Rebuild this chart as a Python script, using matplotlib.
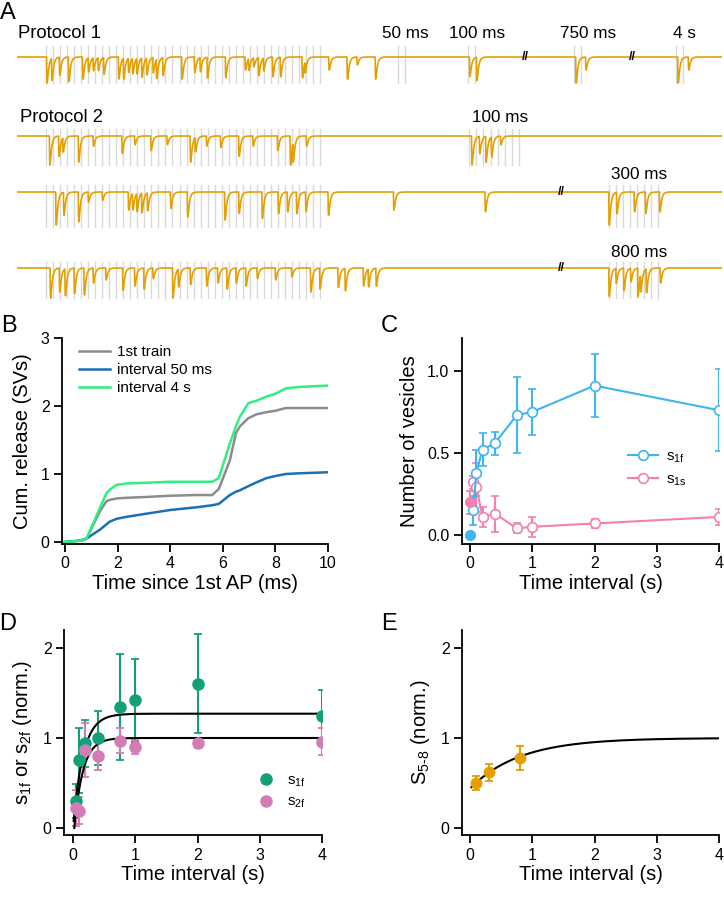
import numpy as np
import matplotlib.pyplot as plt
from matplotlib.lines import Line2D

plt.rcParams['font.family'] = ['Liberation Sans', 'DejaVu Sans']
plt.rcParams['mathtext.fontset'] = 'custom'
plt.rcParams['mathtext.rm'] = 'Liberation Sans'
plt.rcParams['mathtext.it'] = 'Liberation Sans:italic'

W, H = 724, 901

# ---------------- panel A: example traces (times in ms, amplitudes relative) ----------------
train_stims = list(range(0, 400, 10))

p1_stims = train_stims + [500, 510, 600, 610, 750, 760, 895, 905]
p1_times = [1, 8, 19, 32, 52, 60, 67, 74, 82, 103, 110, 117, 123, 129, 136, 143, 152, 157,
            166, 193, 211, 219, 229, 255, 283, 288, 295, 302, 309, 322, 333, 364, 368,
            402, 428, 442, 468, 602, 612, 753, 767, 898, 913]
p1_amps = [1.0, 0.85, 0.7, 0.95, 0.85, 0.55, 0.5, 0.5, 0.65, 0.85, 0.8, 0.55, 0.6, 0.6, 0.75,
           0.65, 0.6, 0.75, 0.7, 0.85, 0.6, 0.55, 0.8, 0.8, 0.5, 0.45, 0.35, 0.7, 0.5, 0.75,
           0.75, 0.8, 0.45, 0.5, 0.85, 0.3, 0.85, 0.75, 0.9, 1.0, 0.5, 1.0, 0.5]
p1_breaks = [681, 833]

p2a_stims = train_stims + list(range(602, 682, 10))
p2a_times = [5, 18, 24, 46, 67, 108, 126, 149, 172, 205, 212, 228, 248, 274, 294, 329, 347,
             351, 370, 605, 616, 625, 633, 646]
p2a_amps = [1.0, 0.7, 0.5, 0.9, 0.35, 0.6, 0.3, 0.5, 0.3, 0.9, 0.5, 0.35, 0.4, 0.7, 0.35,
            0.5, 1.0, 0.7, 0.35, 1.0, 0.6, 0.9, 0.7, 0.3]
p2a_breaks = []

p2b_stims = train_stims + list(range(800, 880, 10))
p2b_times = [14, 25, 46, 60, 80, 117, 123, 129, 136, 144, 177, 201, 254, 274, 307, 330, 343,
             356, 369, 401, 494, 624, 800, 811, 836, 852, 872]
p2b_amps = [1.0, 0.7, 0.9, 0.3, 0.25, 0.55, 0.5, 0.55, 0.6, 0.55, 0.5, 0.75, 0.85, 0.65, 0.8,
            0.65, 0.6, 0.65, 0.6, 0.7, 0.55, 0.6, 1.0, 0.65, 0.6, 0.65, 0.6]
p2b_breaks = [732]

p2c_stims = train_stims + list(range(800, 880, 10))
p2c_times = [6, 19, 27, 40, 54, 67, 85, 109, 126, 139, 152, 180, 188, 205, 228, 244, 257, 270,
             284, 300, 326, 349, 376, 389, 415, 425, 451, 458, 469, 800, 810, 821, 831, 841,
             845, 853, 873]
p2c_amps = [1.0, 0.8, 0.9, 0.85, 0.9, 0.5, 0.4, 0.75, 0.6, 0.7, 0.35, 1.0, 0.6, 0.55, 0.6,
            0.5, 0.7, 0.5, 0.6, 0.35, 0.4, 0.3, 0.8, 0.7, 0.65, 0.75, 0.6, 0.6, 0.6, 0.95, 0.5,
            0.75, 0.45, 0.95, 0.6, 0.8, 0.5]
p2c_breaks = [732]

# ---------------- panel B: cumulative release ----------------
b_time = [0, 0.6, 0.82, 1.33, 1.58, 1.71, 1.96, 2.35, 3.0, 4.0, 5.0, 5.6, 5.85, 6.27, 6.5,
          6.65, 6.97, 7.3, 7.67, 8.0, 8.4, 8.9, 10.0]
b_first = [0, 0.02, 0.05, 0.45, 0.6, 0.62, 0.64, 0.65, 0.66, 0.68, 0.69, 0.69, 0.78, 1.2,
           1.6, 1.7, 1.82, 1.88, 1.91, 1.93, 1.97, 1.97, 1.97]
b_int50 = [0, 0.02, 0.05, 0.18, 0.26, 0.30, 0.34, 0.37, 0.41, 0.47, 0.51, 0.54, 0.56, 0.69,
           0.74, 0.76, 0.82, 0.88, 0.94, 0.97, 1.0, 1.01, 1.025]
b_int4s = [0, 0.02, 0.05, 0.5, 0.72, 0.77, 0.84, 0.86, 0.87, 0.885, 0.885, 0.885, 0.94,
           1.45, 1.7, 1.84, 2.04, 2.08, 2.14, 2.18, 2.26, 2.28, 2.30]

# ---------------- panel C: number of vesicles ----------------
c_x = [0.05, 0.1, 0.2, 0.4, 0.75, 1, 2, 4]
c_s1f = [0.15, 0.38, 0.52, 0.56, 0.73, 0.75, 0.91, 0.76]
c_s1f_err = [0.09, 0.14, 0.10, 0.07, 0.23, 0.14, 0.19, 0.25]
c_s1s = [0.32, 0.29, 0.11, 0.13, 0.04, 0.05, 0.07, 0.11]
c_s1s_err = [0.04, 0.15, 0.06, 0.11, 0.03, 0.06, 0.03, 0.05]
c_first_s1f, c_first_s1s, c_first_s1s_err = 0.0, 0.20, 0.07

# ---------------- panel D: normalised s1f / s2f ----------------
d_x = [0.05, 0.1, 0.2, 0.4, 0.75, 1, 2, 4]
d_s1f = [0.30, 0.75, 0.94, 1.0, 1.34, 1.42, 1.60, 1.24]
d_s1f_err = [0.19, 0.36, 0.26, 0.30, 0.59, 0.46, 0.55, 0.29]
d_s2f = [0.22, 0.19, 0.87, 0.80, 0.97, 0.90, 0.94, 0.96]
d_s2f_err = [0.20, 0.15, 0.30, 0.16, 0.14, 0.08, 0.05, 0.15]
d_fit_s1f = (1.27, 0.16, 0.0)   # amplitude, tau (s), delay (s)
d_fit_s2f = (1.0, 0.14, 0.02)

# ---------------- panel E: S5-8 ----------------
e_x = [0.1, 0.3, 0.8]
e_y = [0.50, 0.62, 0.78]
e_err = [0.075, 0.095, 0.135]
e_fit = (0.56, 0.8)   # deficit, tau (s)

ORANGE = '#E69F00'
GREEN = '#12A077'
MAUVE = '#D27DB6'
SKY = '#3FB4EE'
PINK = '#F57FAE'

fig = plt.figure(figsize=(W / 100, H / 100), dpi=100)


def px_axes(left, top, right, bottom):
    return fig.add_axes([left / W, 1 - bottom / H, (right - left) / W, (bottom - top) / H])


def style(ax):
    for s in ['top', 'right']:
        ax.spines[s].set_visible(False)
    for s in ['left', 'bottom']:
        ax.spines[s].set_linewidth(1.3)
    ax.tick_params(direction='out', length=6, width=1.3, labelsize=11.5, pad=3)


# ---- A ----
axA = px_axes(17, 20, 722, 300)
axA.set_xlim(-41, 961)
axA.set_ylim(300, 20)
axA.axis('off')

t = np.arange(-41, 961, 0.2)
kern_t = np.arange(0, 30, 0.2)
kern_peak = ((1 - np.exp(-kern_t / 0.5)) * np.exp(-kern_t / 2.2)).max()


def make_trace(times, amps):
    y = np.zeros_like(t)
    for t0, a in zip(times, amps):
        s = t - t0
        m = s > 0
        y[m] -= a * (1 - np.exp(-s[m] / 0.5)) * np.exp(-s[m] / 2.2) / kern_peak
    return y


# baseline, depth, stim-line extent above / below, data
traces = [
    (57, 26, 11, 26, p1_stims, p1_times, p1_amps, p1_breaks),
    (136, 29, 7, 29, p2a_stims, p2a_times, p2a_amps, p2a_breaks),
    (192, 33, 7, 35, p2b_stims, p2b_times, p2b_amps, p2b_breaks),
    (268, 30, 6, 30, p2c_stims, p2c_times, p2c_amps, p2c_breaks),
]
for base, depth, up, down, stims, times, amps, breaks in traces:
    for st in stims:
        axA.plot([st, st], [base - up, base + down], color='#d9d9d9', lw=1.0, zorder=1)
    axA.plot(t, base - depth * make_trace(times, amps), color=ORANGE, lw=1.2, zorder=2)
    for bk in breaks:
        axA.text(bk, base, '//', ha='center', va='center', fontsize=9, fontweight='bold',
                 color='black', zorder=3)

axA.text(-40, 34, 'Protocol 1', fontsize=13.3, ha='left', va='center')
axA.text(-37, 117, 'Protocol 2', fontsize=13.3, ha='left', va='center')
for lab, xc in [('50 ms', 511), ('100 ms', 613), ('750 ms', 771), ('4 s', 907)]:
    axA.text(xc, 34, lab, fontsize=12.3, ha='center', va='center')
axA.text(646, 118, '100 ms', fontsize=12.3, ha='center', va='center')
axA.text(843, 174, '300 ms', fontsize=12.3, ha='center', va='center')
axA.text(843, 252, '800 ms', fontsize=12.3, ha='center', va='center')

# ---- B ----
axB = px_axes(62, 338, 328, 544)
style(axB)
axB.plot(b_time, b_first, color='#8c8c8c', lw=1.8, label='1st train')
axB.plot(b_time, b_int50, color='#1a6fb8', lw=1.8, label='interval 50 ms')
axB.plot(b_time, b_int4s, color='#2ff07e', lw=1.8, label='interval 4 s')
axB.set_xlim(-0.11, 10)
axB.set_ylim(-0.03, 3)
axB.set_xticks([0, 2, 4, 6, 8, 10])
axB.set_yticks([0, 1, 2, 3])
axB.set_xlabel('Time since 1st AP (ms)', fontsize=14.5, labelpad=2)
axB.set_ylabel('Cum. release (SVs)', fontsize=14.5, labelpad=6)
axB.legend(loc='upper left', bbox_to_anchor=(0.065, 0.965), frameon=False, fontsize=11,
           handlelength=2.0, handletextpad=0.5, labelspacing=0.25, borderpad=0, borderaxespad=0)

# ---- C ----
axC = px_axes(462, 338, 719, 544)
style(axC)
mk = dict(marker='o', ms=7, mfc='white', mew=1.2, lw=1.5, capsize=3, capthick=1.3, elinewidth=1.5)
axC.errorbar(c_x, c_s1s, yerr=c_s1s_err, color=PINK, **mk)
axC.errorbar(c_x, c_s1f, yerr=c_s1f_err, color=SKY, **mk)
axC.errorbar([0], [c_first_s1s], yerr=[c_first_s1s_err], color=PINK, marker='o', ms=7,
             capsize=3, capthick=1.3, elinewidth=1.5, ls='none')
axC.plot([0], [c_first_s1f], 'o', color=SKY, ms=7, clip_on=False)
axC.set_xlim(-0.13, 4)
axC.set_ylim(-0.055, 1.2)
axC.set_xticks([0, 1, 2, 3, 4])
axC.set_yticks([0, 0.5, 1.0])
axC.set_yticklabels(['0.0', '0.5', '1.0'])
axC.set_xlabel('Time interval (s)', fontsize=14.5, labelpad=2)
axC.set_ylabel('Number of vesicles', fontsize=14.5, labelpad=6)
hC = [Line2D([], [], color=SKY, marker='o', mfc='white', ms=7, mew=1.2, lw=1.5),
      Line2D([], [], color=PINK, marker='o', mfc='white', ms=7, mew=1.2, lw=1.5)]
axC.legend(hC, [r'$\mathregular{s_{1f}}$', r'$\mathregular{s_{1s}}$'], loc='upper left',
           bbox_to_anchor=(0.645, 0.46), frameon=False, fontsize=11, handlelength=2.0,
           handletextpad=0.5, labelspacing=0.5, borderpad=0, borderaxespad=0)

# ---- D ----
axD = px_axes(64, 630, 322, 835)
style(axD)
dk = dict(marker='o', ms=8, ls='none', capsize=3, capthick=1.3, elinewidth=1.5)
axD.errorbar(d_x, d_s1f, yerr=d_s1f_err, color=GREEN, **dk)
axD.errorbar(d_x, d_s2f, yerr=d_s2f_err, color=MAUVE, **dk)
for amp, tau, t0 in [d_fit_s1f, d_fit_s2f]:
    xf = np.linspace(max(t0, 0.01), 4, 400)
    axD.plot(xf, amp * (1 - np.exp(-(xf - t0) / tau)), color='black', lw=1.5)
axD.set_xlim(-0.145, 4)
axD.set_ylim(-0.078, 2.2)
axD.set_xticks([0, 1, 2, 3, 4])
axD.set_yticks([0, 1, 2])
axD.set_xlabel('Time interval (s)', fontsize=14.5, labelpad=2)
axD.set_ylabel(r'$\mathregular{s_{1f}}$ or $\mathregular{s_{2f}}$ (norm.)', fontsize=14.5, labelpad=6)
axD.legend([Line2D([], [], color=GREEN, marker='o', ms=8, ls='none'),
            Line2D([], [], color=MAUVE, marker='o', ms=8, ls='none')],
           [r'$\mathregular{s_{1f}}$', r'$\mathregular{s_{2f}}$'],
           loc='upper left', bbox_to_anchor=(0.74, 0.30), frameon=False, fontsize=11,
           handlelength=1.5, handletextpad=0.6, labelspacing=0.4, borderpad=0, borderaxespad=0)

# ---- E ----
axE = px_axes(462, 630, 719, 835)
style(axE)
axE.errorbar(e_x, e_y, yerr=e_err, color=ORANGE, marker='o', ms=7.5, ls='none', capsize=3,
             capthick=1.3, elinewidth=1.5)
xe = np.linspace(0.02, 4, 400)
axE.plot(xe, 1 - e_fit[0] * np.exp(-xe / e_fit[1]), color='black', lw=1.5)
axE.set_xlim(-0.13, 4)
axE.set_ylim(-0.078, 2.2)
axE.set_xticks([0, 1, 2, 3, 4])
axE.set_yticks([0, 1, 2])
axE.set_xlabel('Time interval (s)', fontsize=14.5, labelpad=2)
axE.set_ylabel(r'$\mathregular{S_{5\text{-}8}}$ (norm.)', fontsize=14.5, labelpad=6)

for lab, x, y in [('A', 8, 13), ('B', 9, 326), ('C', 389, 326), ('D', 8, 624), ('E', 389, 624)]:
    fig.text(x / W, 1 - y / H, lab, fontsize=17, ha='center', va='center')

fig.savefig('out.png', dpi=100)
